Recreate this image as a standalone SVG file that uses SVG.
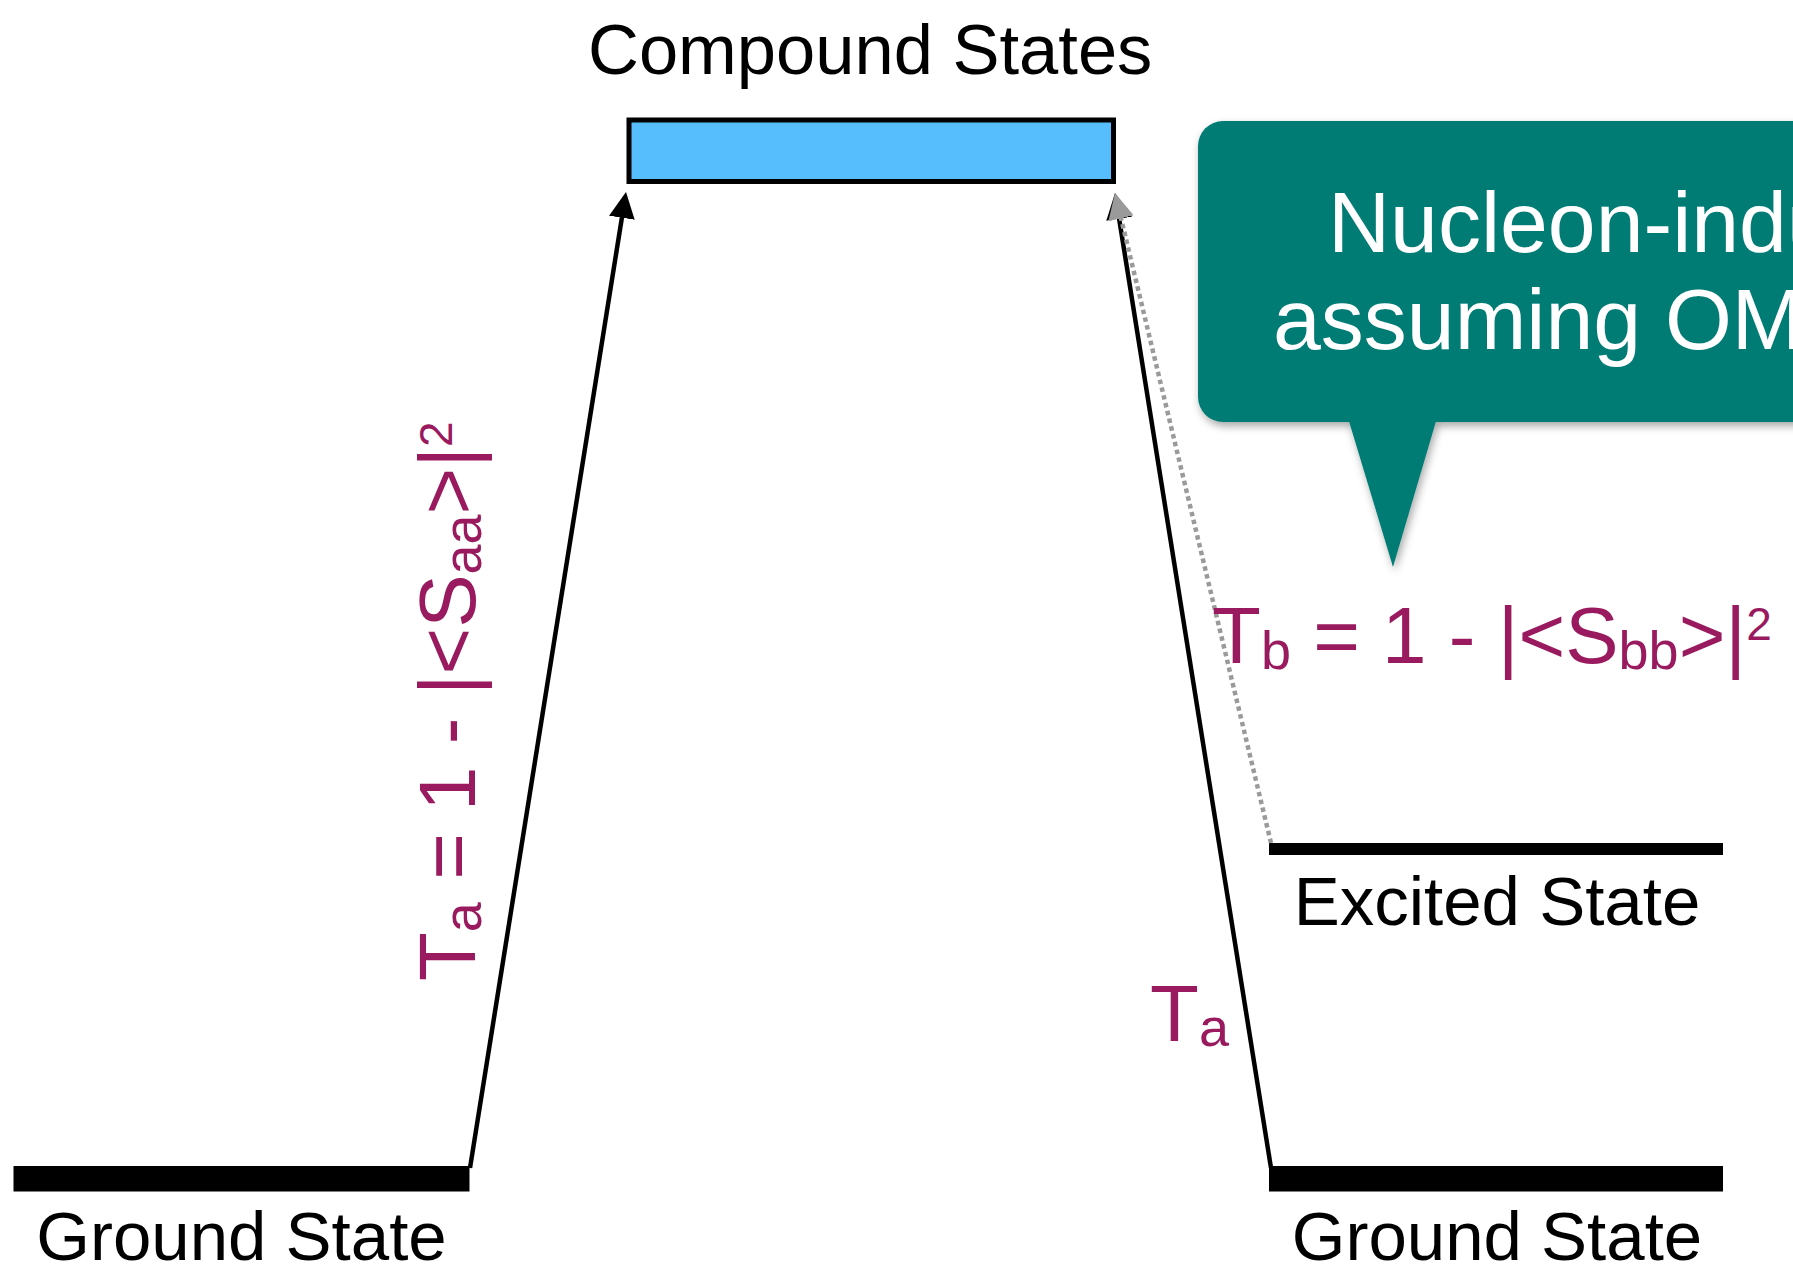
<svg xmlns="http://www.w3.org/2000/svg" width="1793" height="1274" viewBox="0 0 1793 1274">
  <style>
    text { font-family: "Liberation Sans", Arial, Helvetica, sans-serif; }
    .title { font-size: 70.5px; fill: #000; }
    .state { font-size: 69px; fill: #000; text-anchor: middle; }
    .lbl { font-size: 80px; fill: #991A5E; }
    .callout-text { font-size: 86px; fill: #ffffff; }
    .bar { fill: #000; }
    .arrow { fill: none; stroke: #000; stroke-width: 4.5; }
    .dotted { fill: none; stroke: #9a9a9a; stroke-width: 4.5; stroke-dasharray: 4.5 3.5; }
  </style>
  <defs>
    <marker id="headBlack" viewBox="0 0 26 26" refX="4" refY="13" markerWidth="26" markerHeight="26" markerUnits="userSpaceOnUse" orient="auto">
      <path d="M0,0 L26,13 L0,26 z" fill="#000"/>
    </marker>
    <marker id="headGray" viewBox="0 0 26 26" refX="4" refY="13" markerWidth="26" markerHeight="26" markerUnits="userSpaceOnUse" orient="auto">
      <path d="M0,0 L26,13 L0,26 z" fill="#9a9a9a"/>
    </marker>
    <filter id="shadow" x="-10%" y="-10%" width="130%" height="130%">
      <feDropShadow dx="2" dy="4" stdDeviation="4" flood-color="#000" flood-opacity="0.35"/>
    </filter>
  </defs>

  <rect width="1793" height="1274" fill="#ffffff"/>

  <g id="compound-states">
    <text class="title" x="588" y="74">Compound States</text>
    <rect x="629" y="120" width="484.5" height="61.5" fill="#56BEFD" stroke="#000" stroke-width="5"/>
  </g>

  <g id="ground-state-left">
    <rect class="bar" x="13.5" y="1166" width="456" height="25.5"/>
    <text class="state" x="241.5" y="1260">Ground State</text>
  </g>

  <g id="ground-state-right">
    <rect class="bar" x="1269" y="1166" width="454" height="25.5"/>
    <text class="state" x="1497" y="1260">Ground State</text>
  </g>

  <g id="excited-state">
    <rect class="bar" x="1269" y="843" width="454" height="12"/>
    <text class="state" x="1497" y="925">Excited State</text>
  </g>

  <g id="connectors">
    <line class="arrow" x1="470" y1="1168" x2="622.5" y2="213.8" marker-end="url(#headBlack)"/>
    <line class="arrow" x1="1271" y1="1168" x2="1118.5" y2="214.8" marker-end="url(#headBlack)"/>
    <line class="dotted" x1="1271" y1="843" x2="1120.1" y2="214.4" marker-end="url(#headGray)"/>
  </g>

  <g id="callout">
    <g filter="url(#shadow)">
      <rect x="1198" y="121" width="700" height="301" rx="25" ry="25" fill="#017B75"/>
      <polygon points="1348,418 1437,418 1393,567" fill="#017B75"/>
    </g>
    <text class="callout-text" x="1328" y="252">Nucleon-indu</text>
    <text class="callout-text" x="1273" y="349">assuming OM</text>
  </g>

  <g id="labels">
    <text class="lbl" transform="translate(475,981) rotate(-90)"><tspan>T</tspan><tspan font-size="54" dy="6">a</tspan><tspan dy="-6"> = 1 - |&lt;S</tspan><tspan font-size="54" dy="6">aa</tspan><tspan dy="-6">&gt;|</tspan><tspan font-size="46" dy="-23">2</tspan></text>
    <text class="lbl" x="1212" y="663"><tspan>T</tspan><tspan font-size="54" dy="6">b</tspan><tspan dy="-6"> = 1 - |&lt;S</tspan><tspan font-size="54" dy="6">bb</tspan><tspan dy="-6">&gt;|</tspan><tspan font-size="46" dy="-23">2</tspan></text>
    <text class="lbl" x="1150" y="1041"><tspan>T</tspan><tspan font-size="54" dy="5">a</tspan></text>
  </g>
</svg>
